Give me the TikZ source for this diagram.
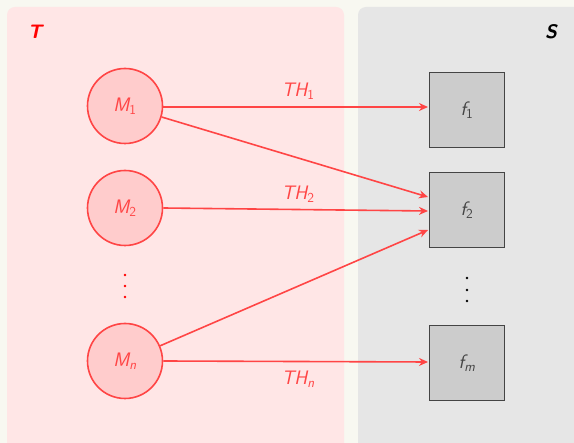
\documentclass[tikz,border=0pt]{standalone}
\usetikzlibrary{arrows.meta}
\definecolor{bgc}{HTML}{F8F8F1}
\definecolor{tpanel}{HTML}{FFE6E6}
\definecolor{spanel}{HTML}{E6E6E6}
\definecolor{cfill}{HTML}{FFCCCC}
\definecolor{cline}{HTML}{FF4545}
\definecolor{bfill}{HTML}{CCCCCC}
\definecolor{bline}{HTML}{444444}
\newcommand{\lbl}[2]{{\sffamily\slshape #1}\textsubscript{\sffamily #2}}
\begin{document}
\begin{tikzpicture}[x=1pt,y=-1pt,
  txt/.style={font=\fontsize{19.5}{22}\selectfont},
  mnode/.style={circle,draw=cline,fill=cfill,line width=1.6pt,minimum size=75pt,inner sep=0pt,text=cline,txt},
  fnode/.style={rectangle,draw=bline,fill=bfill,line width=1.6pt,minimum size=75pt,inner sep=0pt,text=bline,txt},
  conn/.style={draw=cline,line width=1.6pt,-{Stealth[length=9pt,width=8pt]}},
  thl/.style={text=cline,txt},
  dotn/.style={circle,inner sep=0pt,minimum size=2.8pt}]
\fill[bgc] (0,0) rectangle (574,443);
\useasboundingbox (0,0) rectangle (574,443);
\fill[tpanel,rounded corners=8pt] (7,7) rectangle (344,452);
\fill[spanel,rounded corners=8pt] (358,7) rectangle (584,452);
\node[text=red,font=\fontsize{19.5}{22}\selectfont\sffamily\bfseries\slshape] (T) at (35,32) {T};
\node[text=black,font=\fontsize{19.5}{22}\selectfont\sffamily\bfseries\slshape] (S) at (551,32) {S};
\node[mnode] (M1) at (125,106) {\lbl{M}{1}};
\node[mnode] (M2) at (125,208) {\lbl{M}{2}};
\node[mnode] (Mn) at (125,361) {\lbl{M}{\slshape n}};
\node[dotn,fill=red] (dl1) at (125,275) {};
\node[dotn,fill=red] (dl2) at (125,286) {};
\node[dotn,fill=red] (dl3) at (125,297) {};
\node[fnode] (f1) at (467,110) {\lbl{f}{1}};
\node[fnode] (f2) at (467,210) {\lbl{f}{2}};
\node[fnode] (fm) at (467,363) {\lbl{f}{\slshape m}};
\node[dotn,fill=black] (dr1) at (467,278) {};
\node[dotn,fill=black] (dr2) at (467,290) {};
\node[dotn,fill=black] (dr3) at (467,301) {};
\coordinate (e1) at (428,107);
\coordinate (e2a) at (428,197);
\coordinate (e2b) at (428,211);
\coordinate (e2c) at (428,230);
\coordinate (em) at (428,362);
\draw[conn] (M1.east |- e1) -- node[thl,above=3pt,pos=0.51] (th1) {\lbl{TH}{1}} (e1);
\draw[conn] (M1) -- (e2a);
\draw[conn] (M2.east) -- node[thl,above=3pt,pos=0.51] (th2) {\lbl{TH}{2}} (e2b);
\draw[conn] (Mn) -- (e2c);
\draw[conn] (Mn.east) -- node[thl,below=5pt,pos=0.51] (thn) {\lbl{TH}{\slshape n}} (em);
\end{tikzpicture}
\end{document}
